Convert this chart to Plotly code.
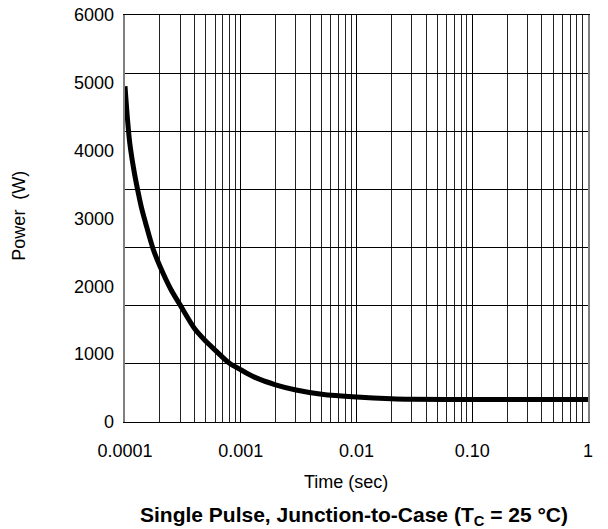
import plotly.graph_objects as go

# Data
time_s = [1.0e-4, 1.05e-4, 1.1e-4, 1.2e-4, 1.3e-4, 1.4e-4, 1.5e-4, 1.75e-4,
          2.0e-4, 2.5e-4, 3.0e-4, 4.0e-4, 5.0e-4, 6.0e-4, 8.0e-4, 1.0e-3,
          1.3e-3, 2.0e-3, 3.0e-3, 5.0e-3, 1.0e-2, 2.0e-2, 3.0e-2, 0.1, 1.0]
power_w = [4950, 4470, 4110, 3690, 3385, 3135, 2945, 2550,
           2300, 1950, 1723, 1375, 1190, 1060, 865, 770,
           665, 548, 472, 410, 368, 342, 335, 330, 330]

x_tickvals = [1e-4, 1e-3, 1e-2, 1e-1, 1]
x_ticktext = ["0.0001", "0.001", "0.01", "0.10", "1"]
y_label_vals = [0, 1000, 2000, 3000, 4000, 5000, 6000]
y_grid_divisions = 7
y_max = 6000

font_family = "Liberation Sans, Arial, Helvetica, sans-serif"

minor_vals = [m * d for d in [1e-4, 1e-3, 1e-2, 1e-1] for m in range(2, 10)]
y_grid_vals = [k * y_max / y_grid_divisions for k in range(y_grid_divisions + 1)]

fig = go.Figure()
fig.add_trace(go.Scatter(
    x=time_s, y=power_w, mode="lines",
    line=dict(color="black", width=5, shape="spline", smoothing=0.8),
    showlegend=False, hoverinfo="x+y",
))
# invisible trace to activate label axis
fig.add_trace(go.Scatter(x=[time_s[0]], y=[power_w[0]], yaxis="y2",
                         mode="markers", marker=dict(opacity=0),
                         showlegend=False, hoverinfo="skip"))

fig.update_layout(
    width=600, height=521,
    margin=dict(l=117, r=20, t=7, b=107, autoexpand=False),
    paper_bgcolor="white", plot_bgcolor="white",
    font=dict(family=font_family, color="black", size=18),
    xaxis=dict(
        type="log", range=[-4, 0],
        tickvals=x_tickvals, ticktext=x_ticktext,
        showgrid=True, gridcolor="black", gridwidth=1,
        minor=dict(tickvals=minor_vals, showgrid=True, gridcolor="#222", gridwidth=1, ticks=""),
        showline=True, linecolor="black", linewidth=1, mirror=True,
        ticks="", ticklabelstandoff=12, zeroline=False,
        tickfont=dict(size=18), ticklabeloverflow="allow", automargin=False,
    ),
    yaxis=dict(
        range=[0, y_max], tickvals=y_grid_vals, showticklabels=False,
        showgrid=True, gridcolor="black", gridwidth=1,
        showline=True, linecolor="#808080", linewidth=1.5, mirror=True,
        ticks="", zeroline=False, automargin=False,
    ),
    yaxis2=dict(
        range=[0, y_max], overlaying="y", side="left",
        tickvals=y_label_vals, showgrid=False, zeroline=False,
        showline=False, ticks="", ticklabelstandoff=10,
        tickfont=dict(size=18), ticklabeloverflow="allow", automargin=False,
    ),
    annotations=[
        dict(text="Time (sec)", xref="paper", yref="paper", x=0.477, y=0,
             yshift=-60, showarrow=False, font=dict(size=18), yanchor="middle"),
        dict(text="<b>Single Pulse, Junction-to-Case (T<sub>C</sub> = 25 °C)</b>",
             xref="paper", yref="paper", x=0.495, y=0, yshift=-94,
             showarrow=False, font=dict(size=21), yanchor="middle"),
        dict(text="Power  (W)", xref="paper", yref="paper", x=0, y=0.507,
             xshift=-106, textangle=-90, showarrow=False, font=dict(size=18),
             xanchor="center", yanchor="middle"),
    ],
)

fig.write_html("out.html")
